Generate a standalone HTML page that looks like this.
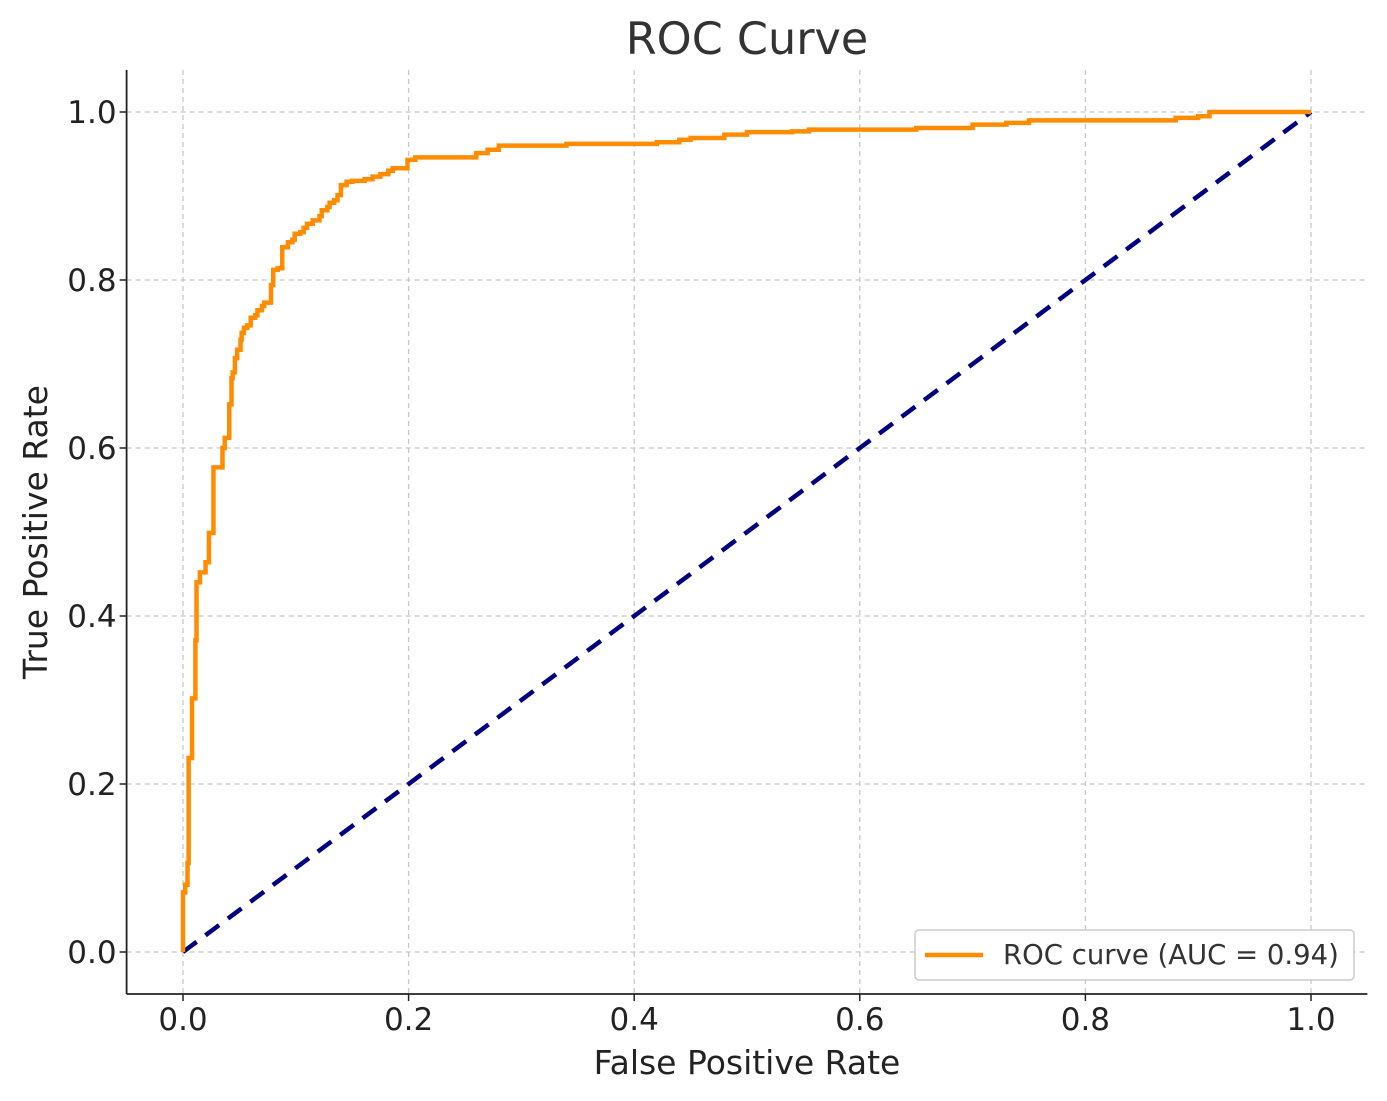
<!DOCTYPE html>
<html><head><meta charset="utf-8"><style>
html,body{margin:0;padding:0;background:#fff;}
svg{display:block;font-family:"DejaVu Sans","Liberation Sans",sans-serif;}
</style></head><body>
<svg id="chart" width="1387" height="1101" viewBox="0 0 1387 1101" xmlns="http://www.w3.org/2000/svg">
<text x="747" y="54" text-anchor="middle" font-size="44.5" fill="#333">ROC Curve</text>
<g id="grid"></g>
<g id="axes"></g>
<g id="series"></g>
<text x="747" y="1074" text-anchor="middle" font-size="33" fill="#222">False Positive Rate</text>
<text transform="translate(47,532) rotate(-90)" text-anchor="middle" font-size="33" fill="#222">True Positive Rate</text>
<g>
<rect x="915" y="930" width="439" height="50" rx="4" fill="#fff" stroke="#ccc" stroke-width="1.5"/>
<line x1="925" y1="955" x2="983" y2="955" stroke="#ff8c00" stroke-width="4.5"/>
<text x="1003" y="964" font-size="27.5" fill="#333">ROC curve (AUC = 0.94)</text>
</g>
</svg>
<script>
const fpr=[0,0,0.002,0.004,0.004,0.005,0.005,0.008,0.008,0.011,0.011,0.012,0.012,0.015,0.015,0.020,0.020,0.023,0.023,0.027,0.027,0.027,0.027,0.035,0.035,0.037,0.037,0.041,0.041,0.043,0.043,0.044,0.046,0.048,0.051,0.052,0.054,0.057,0.060,0.064,0.066,0.070,0.072,0.078,0.078,0.080,0.080,0.084,0.088,0.088,0.093,0.097,0.099,0.104,0.107,0.110,0.115,0.121,0.123,0.128,0.130,0.134,0.137,0.140,0.140,0.145,0.150,0.161,0.168,0.175,0.182,0.186,0.199,0.199,0.206,0.246,0.260,0.270,0.280,0.340,0.420,0.440,0.450,0.480,0.500,0.540,0.555,0.650,0.700,0.730,0.750,0.870,0.880,0.900,0.910,1.0];
const tpr=[0,0.071,0.080,0.088,0.106,0.107,0.231,0.231,0.302,0.302,0.371,0.371,0.440,0.440,0.452,0.452,0.464,0.464,0.499,0.501,0.552,0.552,0.577,0.577,0.600,0.602,0.612,0.612,0.652,0.652,0.683,0.690,0.707,0.717,0.729,0.737,0.743,0.746,0.755,0.758,0.764,0.769,0.773,0.776,0.794,0.794,0.812,0.814,0.814,0.839,0.845,0.848,0.855,0.857,0.862,0.867,0.871,0.876,0.883,0.887,0.892,0.895,0.901,0.904,0.913,0.917,0.918,0.920,0.923,0.926,0.930,0.933,0.933,0.943,0.946,0.946,0.951,0.955,0.960,0.962,0.964,0.967,0.969,0.973,0.976,0.977,0.979,0.981,0.985,0.987,0.990,0.990,0.993,0.995,1.0,1.0];
const chanceX=[0,1];
const chanceY=[0,1];
const xTicks=[0,0.2,0.4,0.6,0.8,1.0];
const yTicks=[0,0.2,0.4,0.6,0.8,1.0];
const xTickLabels=["0.0","0.2","0.4","0.6","0.8","1.0"];
const yTickLabels=["0.0","0.2","0.4","0.6","0.8","1.0"];

const NS="http://www.w3.org/2000/svg";
const X0=183,X1=1311,Y0=952,Y1=112;
const sx=v=>X0+v*(X1-X0);
const sy=v=>Y0-v*(Y0-Y1);
function mk(tag,attrs,parent){const e=document.createElementNS(NS,tag);for(const k in attrs)e.setAttribute(k,attrs[k]);parent.appendChild(e);return e;}
const grid=document.getElementById('grid'),axes=document.getElementById('axes'),series=document.getElementById('series');
const L=sx(-0.05),R=sx(1.05),T=sy(1.05),B=sy(-0.05);
xTicks.forEach((t,i)=>{
  const g=mk('line',{x1:sx(t),x2:sx(t),y1:T,y2:B,stroke:'#c8c8c8','stroke-width':1.3,'stroke-dasharray':'5,4'},grid);
  
  
  const tk=mk('line',{x1:sx(t),x2:sx(t),y1:B,y2:B+7,stroke:'#222','stroke-width':1.5},axes);
  
  
  const lb=mk('text',{x:sx(t),y:B+36,'text-anchor':'middle','font-size':31,fill:'#222'},axes);
  lb.textContent=xTickLabels[i];
  
  
});
yTicks.forEach((t,i)=>{
  const g=mk('line',{x1:L,x2:R,y1:sy(t),y2:sy(t),stroke:'#c8c8c8','stroke-width':1.3,'stroke-dasharray':'5,4'},grid);
  
  
  const tk=mk('line',{x1:L-7,x2:L,y1:sy(t),y2:sy(t),stroke:'#222','stroke-width':1.5},axes);
  
  
  const lb=mk('text',{x:L-10,y:sy(t)+11,'text-anchor':'end','font-size':31,fill:'#222'},axes);
  lb.textContent=yTickLabels[i];
  
  
});
const ax1=mk('line',{x1:L,x2:L,y1:T,y2:B,stroke:'#222','stroke-width':1.8},axes);


const ax2=mk('line',{x1:L,x2:R,y1:B,y2:B,stroke:'#222','stroke-width':1.8},axes);


const ch=mk('polyline',{points:chanceX.map((v,i)=>sx(v)+','+sy(chanceY[i])).join(' '),fill:'none',stroke:'#000080','stroke-width':4.5,'stroke-dasharray':'17,11'},series);


const pts=[];
fpr.forEach((v,i)=>{
  if(i>0) pts.push(sx(v)+','+sy(tpr[i-1]));
  pts.push(sx(v)+','+sy(tpr[i]));
});
const roc=mk('polyline',{points:pts.join(' '),fill:'none',stroke:'#ff8c00','stroke-width':4.5,'stroke-linejoin':'miter'},series);


</script>
</body></html>
